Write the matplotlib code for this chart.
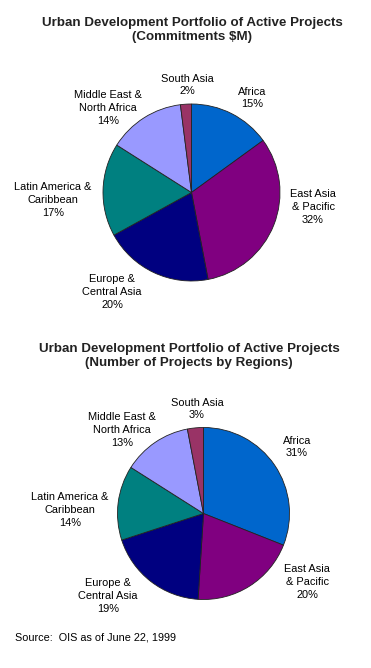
import matplotlib
matplotlib.use("Agg")
import matplotlib.pyplot as plt

# data
regions = ["Africa", "East Asia\n& Pacific", "Europe &\nCentral Asia",
           "Latin America &\nCaribbean", "Middle East &\nNorth Africa", "South Asia"]
commitments_pct = [15, 32, 20, 17, 14, 2]
projects_pct = [31, 20, 19, 14, 13, 3]
colors = ["#0066CC", "#800080", "#000080", "#008080", "#9999FF", "#993366"]

W, H = 371, 668
plt.rcParams["font.family"] = ["Liberation Sans", "DejaVu Sans"]

fig = plt.figure(figsize=(W / 100, H / 100), dpi=100)
ax = fig.add_axes([0, 0, 1, 1])


def yy(py):
    # pixel row (from top) -> data y
    return H - py


def draw_pie(values, cx, cy, r, label_xy):
    ax.pie(values, colors=colors, startangle=90, counterclock=False,
           center=(cx, yy(cy)), radius=r, frame=True,
           wedgeprops=dict(edgecolor="#222222", linewidth=0.6))
    for name, v, (lx, ly) in zip(regions, values, label_xy):
        ax.text(lx, yy(ly), f"{name}\n{v}%", ha="center", va="center",
                fontsize=7.9, linespacing=1.33, color="black")


def draw_title(lines, cx, y1):
    ax.text(cx, yy(y1), lines, ha="center", va="center", fontsize=9.6,
            fontweight="bold", linespacing=1.32, color="#222222")


draw_title("Urban Development Portfolio of Active Projects\n(Commitments $M)", 192.5, 30)
draw_pie(commitments_pct, 191.5, 192.5, 88.5,
         [(252, 98), (313, 207), (112, 292), (53, 200), (108, 108), (187, 85)])

draw_title("Urban Development Portfolio of Active Projects\n(Number of Projects by Regions)", 189, 356)
draw_pie(projects_pct, 203.5, 513.5, 86,
         [(297, 447), (307, 582), (108, 596), (70, 510), (122, 430), (197, 409)])

ax.text(15, yy(638), "Source:  OIS as of June 22, 1999", ha="left", va="center",
        fontsize=7.8, color="black")

ax.set_xlim(0, W)
ax.set_ylim(0, H)
ax.set_aspect("equal")
ax.axis("off")
fig.savefig("out.png", dpi=100)
